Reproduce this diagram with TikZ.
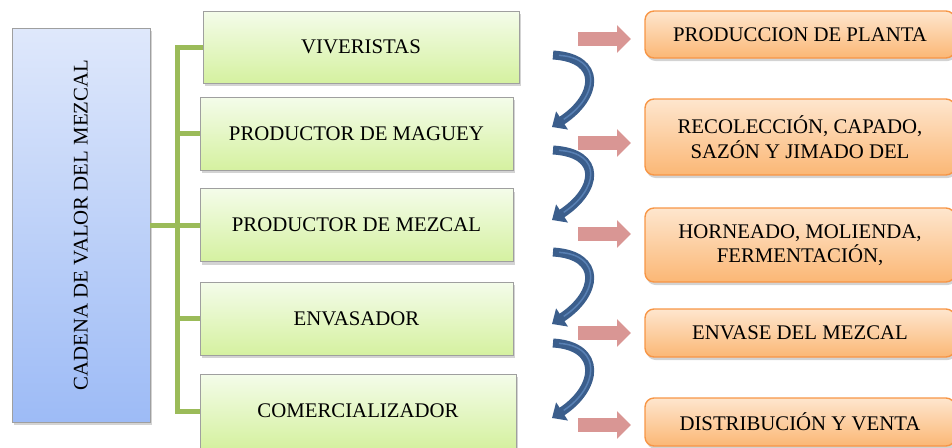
\documentclass[tikz,border=0pt]{standalone}
\usepackage{fontspec}
\setmainfont{Liberation Serif}
\usetikzlibrary{arrows.meta,shadows}

\definecolor{rama}{HTML}{9BBB59}
\definecolor{verdea}{HTML}{F4FCEA}
\definecolor{verdeb}{HTML}{D5F1A0}
\definecolor{azula}{HTML}{DFE8FB}
\definecolor{azulb}{HTML}{9DBBF6}
\definecolor{narana}{HTML}{FEE6CE}
\definecolor{naranb}{HTML}{FBB775}
\definecolor{naranborde}{HTML}{F79646}
\definecolor{rosa}{HTML}{D99694}
\definecolor{azulflecha}{HTML}{3B5E8C}
\definecolor{azulbrillo}{HTML}{6C98CF}

\begin{document}
\begin{tikzpicture}[x=1pt,y=-1pt,
  font=\fontsize{20.8}{24.5}\selectfont,
  sombra/.style={drop shadow={shadow xshift=1.5pt,shadow yshift=-3pt,opacity=0.35}},
  eslabon/.style={draw=gray!75,line width=0.7pt,top color=verdea,bottom color=verdeb,
    minimum width=313pt,minimum height=73pt,sombra},
  etapa/.style={draw=naranborde,line width=1.4pt,rounded corners=9pt,top color=narana,
    bottom color=naranb,minimum width=310pt,align=center,sombra},
  rama/.style={draw=rama,line width=5pt},
  paso/.style={draw=rosa,line width=14pt,-{Triangle[length=14pt,width=27pt]}},
  giro/.style={draw=azulflecha,line width=9pt,-{Triangle[length=12pt,width=21pt]}}]

\useasboundingbox (0,0) rectangle (952,447);

\node[draw=gray!75,line width=0.7pt,top color=azula,bottom color=azulb,
  minimum width=138pt,minimum height=394pt,sombra] (cadena) at (81,225) {};
\node[rotate=90] at (cadena.center) {CADENA DE VALOR DEL MEZCAL};

\node[eslabon,minimum width=316pt,minimum height=72pt] (viver) at (361,47) {VIVERISTAS};
\node[eslabon] (maguey) at (356.5,133.5) {PRODUCTOR DE MAGUEY};
\node[eslabon] (mezcal) at (356.5,225) {PRODUCTOR DE MEZCAL};
\node[eslabon] (envas) at (356.5,318.5) {ENVASADOR};
\node[eslabon,minimum width=316pt,minimum height=74pt] (comer) at (358,411) {COMERCIALIZADOR};

\coordinate (tronco) at (177,0);
\draw[rama] (viver.west) -- (viver.west -| tronco) -- (comer.west -| tronco) -- (comer.west);
\draw[rama] (maguey.west -| tronco) -- (maguey.west);
\draw[rama] (cadena.east) -- (mezcal.west);
\draw[rama] (envas.west -| tronco) -- (envas.west);

\node[etapa,minimum height=47pt] (planta) at (800,34.5) {PRODUCCION DE PLANTA};
\node[etapa,minimum height=76pt] (recol) at (800,137) {RECOLECCIÓN, CAPADO,\\SAZÓN Y JIMADO DEL};
\node[etapa,minimum height=74pt] (horno) at (800,245) {HORNEADO, MOLIENDA,\\FERMENTACIÓN,};
\node[etapa,minimum height=48pt] (envase) at (800,333) {ENVASE DEL MEZCAL};
\node[etapa,minimum height=48pt] (venta) at (800,422) {DISTRIBUCIÓN Y VENTA};

\foreach \i/\y in {1/39,2/143,3/234,4/333,5/425}{
  \coordinate (r\i a) at (578,\y);
  \coordinate (r\i b) at (631,\y);
  \draw[paso] (r\i a) -- (r\i b);
}

\foreach \i/\a/\b in {1/55/127,2/150/220,3/252/324,4/343/418}{
  \coordinate (g\i a) at (553,\a);
  \coordinate (g\i b) at (552,\b);
  \draw[giro] (g\i a) .. controls +(50,3) and +(46,-30) .. (g\i b);
  \draw[azulbrillo,line width=1.5pt,opacity=0.6,shorten <=6pt,shorten >=14pt]
    (g\i a) .. controls +(50,3) and +(46,-30) .. (g\i b);
}

\end{tikzpicture}
\end{document}
